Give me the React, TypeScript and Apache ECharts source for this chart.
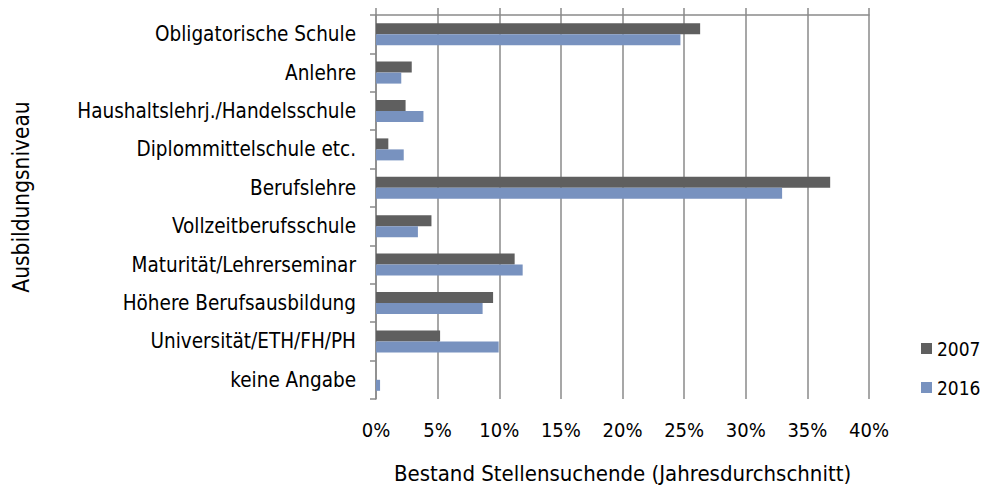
import React, { useEffect, useRef } from "react";
import * as echarts from "echarts";

const categories = [
  "Obligatorische Schule",
  "Anlehre",
  "Haushaltslehrj./Handelsschule",
  "Diplommittelschule etc.",
  "Berufslehre",
  "Vollzeitberufsschule",
  "Maturität/Lehrerseminar",
  "Höhere Berufsausbildung",
  "Universität/ETH/FH/PH",
  "keine Angabe",
];
const values2007 = [26.3, 2.9, 2.4, 1.0, 36.85, 4.5, 11.25, 9.5, 5.2, 0];
const values2016 = [24.7, 2.05, 3.85, 2.25, 32.95, 3.4, 11.9, 8.65, 9.95, 0.33];
const seriesNames = ["2007", "2016"];
const xTitle = "Bestand Stellensuchende (Jahresdurchschnitt)";
const yTitle = "Ausbildungsniveau";

const FONT = "'DejaVu Sans Condensed', 'DejaVu Sans', sans-serif";
const GRID = "#8a8a8a";

export default function App() {
  const ref = useRef<HTMLDivElement>(null);
  useEffect(() => {
    if (!ref.current) return;
    const chart = echarts.init(ref.current, undefined, { renderer: "svg" });
    chart.setOption({
      animation: false,
      textStyle: { fontFamily: FONT },
      grid: { left: 376, right: 115, top: 15, bottom: 87, containLabel: false },
      legend: {
        orient: "vertical",
        left: 921,
        top: 339,
        padding: 0,
        itemWidth: 11,
        itemHeight: 11,
        itemGap: 20,
        icon: "rect",
        textStyle: { fontFamily: FONT, fontSize: 19, color: "#000" },
        data: seriesNames,
      },
      xAxis: [
        {
          type: "value",
          position: "top",
          min: 0,
          max: 40,
          interval: 5,
          axisLine: { show: true, lineStyle: { color: GRID, width: 1.5 } },
          axisTick: { show: true, length: 7, lineStyle: { color: GRID, width: 1.5 } },
          axisLabel: { show: false },
          splitLine: { show: true, lineStyle: { color: GRID, width: 1.5 } },
        },
        {
          type: "value",
          position: "bottom",
          min: 0,
          max: 40,
          interval: 5,
          axisLine: { show: false },
          axisTick: { show: false },
          splitLine: { show: false },
          axisLabel: {
            show: true,
            margin: 21,
            fontFamily: FONT,
            fontSize: 20,
            color: "#000",
            formatter: "{value}%",
          },
          name: xTitle,
          nameLocation: "middle",
          nameGap: 74,
          nameTextStyle: { fontFamily: FONT, fontSize: 22, color: "#000", verticalAlign: "middle" },
        },
      ],
      yAxis: {
        type: "category",
        inverse: true,
        data: categories,
        axisLine: { show: true, lineStyle: { color: GRID, width: 1.5 } },
        axisTick: { show: true, length: 6, lineStyle: { color: GRID, width: 1.5 } },
        axisLabel: { margin: 20, fontFamily: FONT, fontSize: 20.5, color: "#000" },
        splitLine: { show: false },
      },
      graphic: [
        {
          type: "text",
          x: 21,
          y: 197,
          rotation: Math.PI / 2,
          style: {
            text: yTitle,
            fontFamily: FONT,
            fontSize: 22.5,
            fill: "#000",
            align: "center",
            verticalAlign: "middle",
          },
        },
      ],
      series: [
        {
          name: seriesNames[0],
          type: "bar",
          xAxisIndex: 0,
          data: values2007,
          barWidth: 11,
          barGap: "0%",
          itemStyle: { color: "#5f5f5f" },
        },
        {
          name: seriesNames[1],
          type: "bar",
          xAxisIndex: 0,
          data: values2016,
          barWidth: 11,
          barGap: "0%",
          itemStyle: { color: "#7892bf" },
        },
      ],
    });
    return () => chart.dispose();
  }, []);
  return (
    <div
      ref={ref}
      style={{ position: "absolute", left: 0, top: 0, width: 984, height: 489, background: "#fff" }}
    />
  );
}
